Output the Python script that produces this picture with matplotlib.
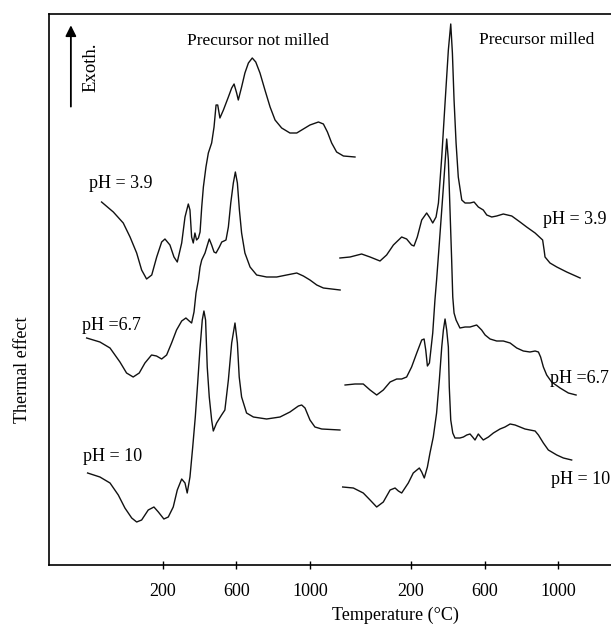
import numpy as np
import matplotlib
matplotlib.use('Agg')
import matplotlib.pyplot as plt

plt.rcParams['font.family'] = ['Liberation Serif', 'DejaVu Serif']

# DTA curves, temperature in degC, thermal effect in arbitrary units
# --- precursor not milled ---
t_nm_39 = [-134, -70, -16, 21, 57, 84, 111, 139, 166, 193, 211, 238, 260, 278, 302, 320, 338, 347,
           356, 365, 374, 383, 393, 402, 411, 420, 434, 447, 465, 478, 489, 498, 510, 529, 556, 574,
           587, 601, 610, 628, 646, 665, 686, 705, 728, 755, 783, 810, 846, 891, 928, 964, 1000,
           1046, 1073, 1095, 1118, 1145, 1182, 1245]
y_nm_39 = [363, 353, 342, 328, 312, 295, 286, 290, 308, 323, 326, 320, 308, 303, 322, 348, 361, 355,
           328, 322, 332, 325, 327, 333, 358, 378, 398, 412, 422, 438, 460, 460, 447, 455, 468, 477,
           481, 472, 465, 478, 492, 502, 507, 503, 492, 475, 458, 445, 437, 432, 432, 436, 440,
           443, 441, 433, 422, 413, 409, 408]

t_nm_67 = [-215, -143, -88, -34, 2, 38, 71, 102, 138, 165, 193, 220, 247, 274, 302, 325, 343, 356,
           369, 380, 393, 402, 411, 429, 442, 452, 465, 478, 489, 507, 520, 532, 543, 556, 569, 583,
           594, 605, 616, 628, 646, 674, 710, 764, 819, 873, 928, 964, 1000, 1037, 1073, 1164]
y_nm_67 = [227, 223, 217, 203, 192, 188, 192, 202, 210, 209, 206, 210, 222, 235, 244, 247, 244, 242,
           253, 272, 285, 298, 305, 312, 320, 326, 320, 313, 312, 318, 323, 324, 325, 338, 362, 382,
           393, 382, 355, 332, 312, 298, 290, 288, 288, 290, 292, 289, 285, 280, 277, 275]

t_nm_10 = [-210, -143, -88, -43, -7, 30, 57, 84, 120, 151, 175, 205, 229, 256, 278, 302, 320, 332,
           347, 362, 376, 389, 401, 414, 423, 432, 441, 452, 465, 474, 492, 519, 537, 556, 574, 592,
           605, 615, 628, 655, 692, 764, 837, 891, 937, 955, 973, 1000, 1027, 1064, 1163]
y_nm_10 = [92, 88, 82, 70, 57, 47, 43, 45, 55, 58, 53, 46, 48, 58, 75, 86, 82, 72,
           88, 118, 148, 182, 215, 245, 254, 245, 198, 168, 145, 134, 142, 150, 155, 185, 222, 242,
           222, 188, 168, 152, 148, 146, 148, 153, 159, 160, 157, 145, 138, 136, 135]

# --- precursor milled ---
t_m_39 = [-187, -132, -69, -23, 31, 67, 104, 149, 176, 203, 216, 234, 258, 285, 303, 318, 336, 349,
          367, 385, 403, 416, 425, 434, 445, 457, 476, 494, 521, 543, 566, 593, 612, 639, 666, 702,
          748, 793, 829, 875, 916, 924, 929, 956, 993, 1047, 1120]
y_m_39 = [307, 308, 311, 308, 304, 310, 320, 328, 326, 320, 319, 328, 345, 352, 347, 342, 348, 362,
          408, 462, 515, 541, 512, 465, 422, 388, 365, 362, 362, 363, 358, 355, 350, 348, 349, 351,
          349, 343, 338, 332, 325, 315, 308, 302, 298, 293, 287]

t_m_67 = [-159, -105, -60, -23, 13, 49, 86, 122, 149, 176, 203, 231, 258, 271, 280, 289, 300, 318,
          330, 339, 354, 376, 394, 403, 412, 421, 427, 434, 445, 466, 494, 521, 557, 584, 603, 630,
          666, 702, 739, 775, 811, 847, 875, 893, 905, 920, 938, 965, 1011, 1056, 1098]
y_m_67 = [180, 181, 181, 175, 170, 175, 183, 186, 186, 188, 198, 212, 225, 226, 215, 199, 202, 232,
          265, 285, 322, 378, 426, 405, 355, 305, 268, 252, 245, 237, 238, 238, 240, 235, 230, 226,
          224, 224, 222, 217, 214, 213, 214, 213, 208, 198, 190, 183, 177, 172, 170]

t_m_10 = [-172, -114, -60, -23, 13, 49, 86, 113, 131, 149, 185, 212, 245, 258, 272, 289, 303, 321,
          339, 354, 367, 376, 385, 394, 403, 408, 416, 427, 439, 466, 485, 503, 521, 535, 548, 557,
          566, 579, 593, 621, 648, 684, 711, 739, 766, 793, 820, 847, 875, 893, 920, 947, 993,
          1029, 1074]
y_m_10 = [78, 77, 72, 65, 58, 63, 75, 77, 74, 72, 82, 92, 97, 93, 87, 98, 112, 128,
          152, 185, 218, 235, 246, 235, 218, 178, 145, 132, 127, 127, 128, 130, 131, 128, 125, 128,
          131, 128, 125, 128, 132, 136, 138, 141, 140, 138, 136, 135, 134, 130, 122, 115, 110,
          107, 105]

tick_temps = [200, 600, 1000]
shift = 1350  # the milled set is drawn to the right of the first one

fig = plt.figure(figsize=(6.11, 6.25), dpi=100)
ax = fig.add_axes([0.0802, 0.096, 0.9198, 0.8816])

for t, y in [(t_nm_39, y_nm_39), (t_nm_67, y_nm_67), (t_nm_10, y_nm_10)]:
    ax.plot(t, y, color='#111111', lw=1.0, solid_joinstyle='round')
for t, y in [(t_m_39, y_m_39), (t_m_67, y_m_67), (t_m_10, y_m_10)]:
    ax.plot(np.array(t) + shift, y, color='#111111', lw=1.0, solid_joinstyle='round')

ax.set_xlim(-420, 2638)
ax.set_ylim(0, 551)
ax.set_xticks(tick_temps + [v + shift for v in tick_temps])
ax.set_xticklabels([str(v) for v in tick_temps] * 2)
ax.set_yticks([])
ax.tick_params(axis='x', direction='inout', length=6, width=1, labelsize=13, pad=10)
ax.spines['right'].set_visible(False)
for s in ['left', 'top', 'bottom']:
    ax.spines[s].set_linewidth(1.2)

fig.text(0.422, 0.934, 'Precursor not milled', ha='center', va='center', fontsize=12.5)
fig.text(0.879, 0.936, 'Precursor milled', ha='center', va='center', fontsize=12.5)
fig.text(0.149, 0.893, 'Exoth.', ha='center', va='center', rotation=90, fontsize=13.5)
ax.annotate('', xy=(0.116, 0.964), xytext=(0.116, 0.825), xycoords='figure fraction',
            arrowprops=dict(arrowstyle='-|>', color='black', lw=1.3, mutation_scale=16))

fig.text(0.1457, 0.707, 'pH = 3.9', ha='left', va='center', fontsize=13)
fig.text(0.134, 0.480, 'pH =6.7', ha='left', va='center', fontsize=13)
fig.text(0.136, 0.269, 'pH = 10', ha='left', va='center', fontsize=13)
fig.text(0.888, 0.648, 'pH = 3.9', ha='left', va='center', fontsize=13)
fig.text(0.900, 0.394, 'pH =6.7', ha='left', va='center', fontsize=13)
fig.text(0.902, 0.232, 'pH = 10', ha='left', va='center', fontsize=13)

fig.text(0.0376, 0.408, 'Thermal effect', ha='center', va='center', rotation=90, fontsize=13)
fig.text(0.648, 0.016, 'Temperature (\u00b0C)', ha='center', va='center', fontsize=13)

fig.savefig('out.png', dpi=100)
